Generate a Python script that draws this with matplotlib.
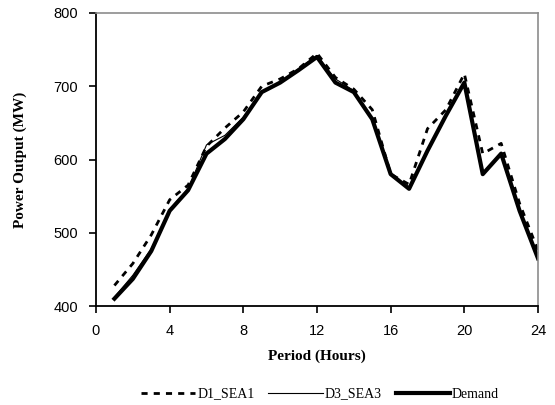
import matplotlib
matplotlib.use("Agg")
import matplotlib.pyplot as plt
import numpy as np

# hourly periods
hours = np.arange(1, 25)

d1_sea1 = [428, 458, 497, 545, 565, 618, 643, 665, 700, 710, 724, 745,
           712, 696, 668, 580, 566, 642, 668, 717, 608, 622, 540, 476]
d3_sea3 = [412, 442, 478, 532, 560, 620, 633, 658, 693, 706, 724, 742,
           710, 694, 656, 580, 561, 613, 660, 706, 582, 608, 532, 467]
demand = [410, 437, 475, 530, 558, 608, 628, 655, 692, 705, 722, 740,
          705, 692, 655, 580, 560, 612, 660, 705, 580, 608, 530, 465]

fig = plt.figure(figsize=(5.55, 4.05), dpi=100)
ax = fig.add_axes([96/555, 1 - 306/405, 442/555, 293/405])

ax.plot(hours, d1_sea1, color='black', linestyle=(0, (2.2, 2.2)), linewidth=2.0, label='D1_SEA1')
ax.plot(hours, d3_sea3, color='black', linewidth=0.8, label='D3_SEA3')
ax.plot(hours, demand, color='black', linewidth=3.0, label='Demand')

ax.set_xlim(0, 24)
ax.set_ylim(400, 800)
ax.set_xticks(range(0, 25, 4))
ax.set_yticks(range(400, 801, 100))

for s in ['top', 'right']:
    ax.spines[s].set_color('#8c8c8c')
    ax.spines[s].set_linewidth(1.2)
for s in ['left', 'bottom']:
    ax.spines[s].set_color('black')
    ax.spines[s].set_linewidth(1.3)

ax.tick_params(direction='out', length=5, width=1.2, labelsize=10.5, pad=8)
for lbl in ax.get_xticklabels() + ax.get_yticklabels():
    lbl.set_fontfamily('Liberation Sans')

ax.set_xlabel('Period (Hours)', fontfamily='Liberation Serif', fontweight='bold', fontsize=11, labelpad=8)
ax.set_ylabel('Power Output (MW)', fontfamily='Liberation Serif', fontweight='bold', fontsize=11, labelpad=19)

leg = fig.legend(loc='center', bbox_to_anchor=(320/555, 1 - 394/405), ncol=3, frameon=False,
                 prop={'family': 'Liberation Serif', 'size': 10},
                 handlelength=3.9, handletextpad=0.15, columnspacing=1.0)

fig.savefig('out.png', dpi=100)
